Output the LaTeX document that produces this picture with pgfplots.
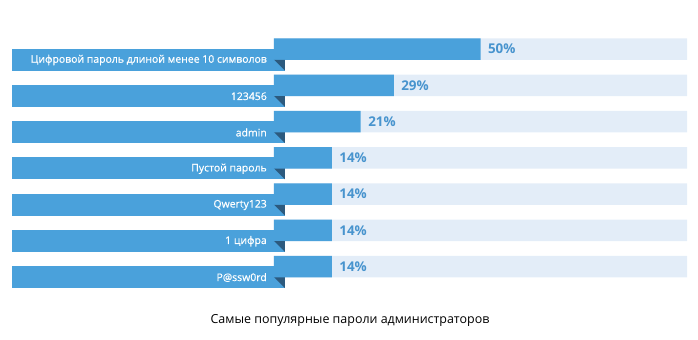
\documentclass[border=0pt]{standalone}
\usepackage{pgfplots}
\pgfplotsset{compat=1.18}
\usepackage{pgfplotstable}
\usepackage{fontspec}
\setmainfont{Open Sans}
\newfontfamily\labfont{Open Sans}[FakeBold=0.6]
\definecolor{barblue}{RGB}{74,161,219}
\definecolor{bglight}{RGB}{227,237,248}
\definecolor{darkfold}{RGB}{44,90,126}
\definecolor{pcttext}{RGB}{72,148,206}

\pgfplotstableread{
y val
49 50
85.25 29
121.5 21
157.75 14
194 14
230.25 14
266.5 14
}\datatab
\pgfplotstableread{
y full
49 100
85.25 100
121.5 100
157.75 100
194 100
230.25 100
266.5 100
}\bgtab

\begin{document}
\begin{tikzpicture}
\begin{axis}[
  scale only axis, width=698bp, height=340bp,
  xmin=-66.34, xmax=102.66, ymin=0, ymax=340, y dir=reverse,
  hide axis, clip=false,
  /pgf/number format/assume math mode=true,
]
\path (rel axis cs:0,0) rectangle (rel axis cs:1,1);
\addplot[xbar, bar width=21.5, fill=bglight, draw=none] table[x=full,y=y] {\bgtab};
\addplot[xbar, bar width=21.5, fill=barblue, draw=none,
  nodes near coords={\pgfmathprintnumber{\pgfplotspointmeta}\%},
  point meta=x,
  every node near coord/.append style={anchor=west, xshift=4bp, font=\fontsize{13.5}{13.5}\selectfont\bfseries, text=pcttext}
] table[x=val,y=y] {\datatab};
% label boxes
\addplot[fill=barblue, draw=none] coordinates {(-63.44,48.5) (2.66,48.5) (2.66,70.5) (-63.44,70.5)} -- cycle;
\addplot[fill=barblue, draw=none] coordinates {(-63.44,84.75) (2.66,84.75) (2.66,106.75) (-63.44,106.75)} -- cycle;
\addplot[fill=barblue, draw=none] coordinates {(-63.44,121) (2.66,121) (2.66,143) (-63.44,143)} -- cycle;
\addplot[fill=barblue, draw=none] coordinates {(-63.44,157.25) (2.66,157.25) (2.66,179.25) (-63.44,179.25)} -- cycle;
\addplot[fill=barblue, draw=none] coordinates {(-63.44,193.5) (2.66,193.5) (2.66,215.5) (-63.44,215.5)} -- cycle;
\addplot[fill=barblue, draw=none] coordinates {(-63.44,229.75) (2.66,229.75) (2.66,251.75) (-63.44,251.75)} -- cycle;
\addplot[fill=barblue, draw=none] coordinates {(-63.44,266) (2.66,266) (2.66,288) (-63.44,288)} -- cycle;
% folds
\addplot[fill=darkfold, draw=none] coordinates {(0,59.75) (2.66,59.75) (2.66,70.5)} -- cycle;
\addplot[fill=darkfold, draw=none] coordinates {(0,96) (2.66,96) (2.66,106.75)} -- cycle;
\addplot[fill=darkfold, draw=none] coordinates {(0,132.25) (2.66,132.25) (2.66,143)} -- cycle;
\addplot[fill=darkfold, draw=none] coordinates {(0,168.5) (2.66,168.5) (2.66,179.25)} -- cycle;
\addplot[fill=darkfold, draw=none] coordinates {(0,204.75) (2.66,204.75) (2.66,215.5)} -- cycle;
\addplot[fill=darkfold, draw=none] coordinates {(0,241) (2.66,241) (2.66,251.75)} -- cycle;
\addplot[fill=darkfold, draw=none] coordinates {(0,277.25) (2.66,277.25) (2.66,288)} -- cycle;
% labels
\tikzset{lab/.style={anchor=east, text=white, font=\labfont\fontsize{10.5}{10.5}\selectfont, inner sep=0pt}}
\node[lab] at (axis cs:-1.7,60) {Цифровой пароль длиной менее 10 символов};
\node[lab] at (axis cs:-1.7,96.25) {123456};
\node[lab] at (axis cs:-1.7,132.5) {admin};
\node[lab] at (axis cs:-1.7,168.75) {Пустой пароль};
\node[lab] at (axis cs:-1.7,205) {Qwerty123};
\node[lab] at (axis cs:-1.7,241.25) {1 цифра};
\node[lab] at (axis cs:-1.7,277.5) {P@ssw0rd};
\node[font=\fontsize{12.5}{12.5}\selectfont, text=black] at (axis cs:18.4,320) {Самые популярные пароли администраторов};
\end{axis}
\end{tikzpicture}
\end{document}
